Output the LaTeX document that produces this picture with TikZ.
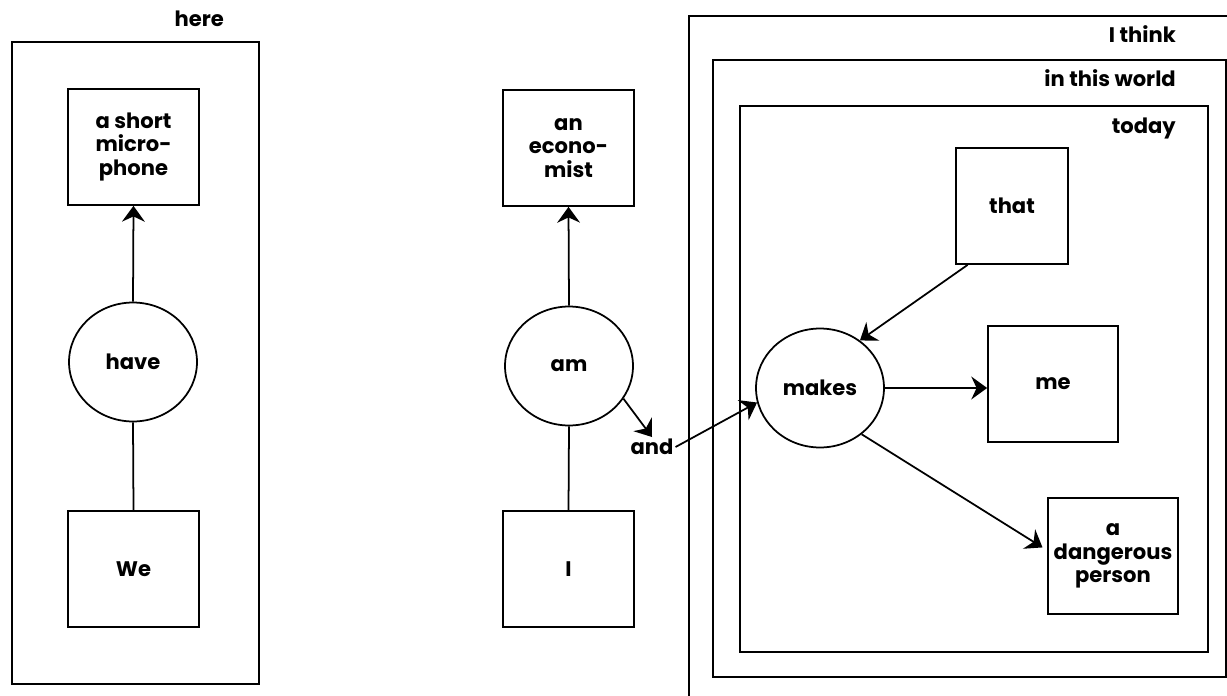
\documentclass[tikz,border=0pt]{standalone}
\usepackage{fontspec}
\setmainfont{Poppins}
\usepackage{tikz}
\usetikzlibrary{shapes,arrows.meta,positioning}

\tikzset{
    word/.style={draw, rectangle, line width=1pt, minimum width=2.62cm, minimum height=2.32cm, align=center},
    verb/.style={draw, ellipse, line width=1pt, minimum width=2.56cm, minimum height=2.38cm, inner sep=0pt},
    frame/.style={draw, line width=1pt},
    link/.style={line width=1pt},
    arc/.style={line width=1pt, -{Stealth[length=9pt, width=13pt, inset=3pt]}}
}

\begin{document}
\begin{tikzpicture}[x=0.02cm, y=-0.02cm, font=\fontsize{12}{13.2}\selectfont\bfseries]
    \clip (0,0) rectangle (1227,696);

    % Frames
    \draw[frame] (12,42) rectangle (259,684);
    \draw[frame] (689,16) rectangle (1260,720);
    \draw[frame] (713,60) rectangle (1226,677);
    \draw[frame] (740,106) rectangle (1208,652);

    \node[anchor=base east] (here) at (230,27) {here};
    \node[anchor=base east] (think) at (1182,43) {I think};
    \node[anchor=base east] (world) at (1182,87) {in this world};
    \node[anchor=base east] (today) at (1182,133) {today};

    % First clause
    \node[word] (mic) at (133.5,147) {a short\\micro-\\phone};
    \node[verb] (have) at (133,362) {have};
    \node[word] (we) at (133.5,569) {We};

    \draw[arc] (have.north) -- (mic.south);
    \draw[link] (have.south) -- (we.north);

    % Second clause
    \node[word] (econ) at (568.5,148) {an\\econo-\\mist};
    \node[verb] (am) at (569,366) {am};
    \node[word] (i) at (568.5,569) {I};

    \draw[arc] (am.north) -- (econ.south);
    \draw[link] (am.south) -- (i.north);

    % Conjunction
    \node[inner sep=1pt] (and) at (652,447) {and};
    \draw[arc] (am.-31) -- (and.north);

    % Embedded clause
    \node[verb] (makes) at (820,388) {makes};
    \node[word, minimum width=2.24cm] (that) at (1012,206) {that};
    \node[word, minimum width=2.6cm] (me) at (1053,384) {me};
    \node[word, minimum width=2.6cm] (danger) at (1113,556) {a\\dangerous\\person};

    \draw[arc] (and.east) -- (makes.193);
    \draw[arc] (that.233) -- (makes.50);
    \draw[arc] (makes.east) -- (makes.east -| me.west);
    \draw[arc, shorten >=3pt] (makes.-48) -- (danger.175);
\end{tikzpicture}
\end{document}
